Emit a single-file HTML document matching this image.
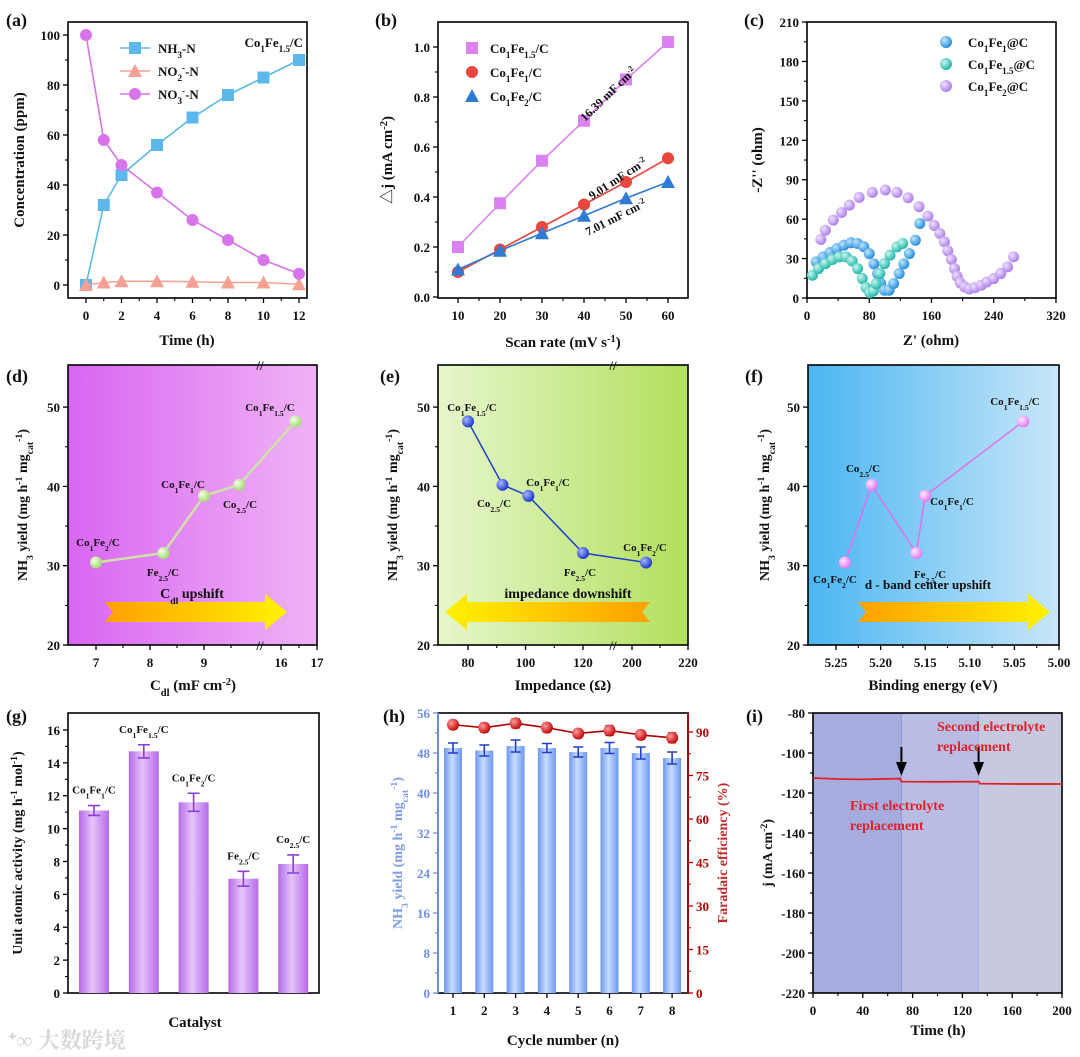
<!DOCTYPE html>
<html><head><meta charset="utf-8">
<style>
html,body{margin:0;padding:0;background:#fff;}
svg{display:block;font-family:"Liberation Serif","Noto Serif CJK SC",serif;font-weight:bold;}
</style></head>
<body>
<svg id="fig" width="1080" height="1057" viewBox="0 0 1080 1057" xmlns="http://www.w3.org/2000/svg">
<defs>
<linearGradient id="gd" x1="0" x2="1" y1="0" y2="0"><stop offset="0" stop-color="#d965f2"/><stop offset="1" stop-color="#f0b3f6"/></linearGradient>
<linearGradient id="ge" x1="0" x2="1" y1="0" y2="0"><stop offset="0" stop-color="#e6f6cc"/><stop offset="1" stop-color="#b2df5c"/></linearGradient>
<linearGradient id="gf" x1="0" x2="1" y1="0" y2="0"><stop offset="0" stop-color="#4bb6f2"/><stop offset="1" stop-color="#c9e7f9"/></linearGradient>
<linearGradient id="arr" x1="0" x2="1" y1="0" y2="0"><stop offset="0" stop-color="#ffa000"/><stop offset="1" stop-color="#fff200"/></linearGradient>
<linearGradient id="arrL" x1="1" x2="0" y1="0" y2="0"><stop offset="0" stop-color="#ffa000"/><stop offset="1" stop-color="#fff200"/></linearGradient>
<linearGradient id="barg" x1="0" x2="1"><stop offset="0" stop-color="#b46be8"/><stop offset="0.45" stop-color="#e7c4fb"/><stop offset="1" stop-color="#b46be8"/></linearGradient>
<linearGradient id="barh" x1="0" x2="1"><stop offset="0" stop-color="#6f97ef"/><stop offset="0.45" stop-color="#c6dcff"/><stop offset="1" stop-color="#6f97ef"/></linearGradient>
<radialGradient id="sBlue" cx="0.35" cy="0.35" r="0.7"><stop offset="0" stop-color="#bfe6ff"/><stop offset="1" stop-color="#1e88d8"/></radialGradient>
<radialGradient id="sTeal" cx="0.35" cy="0.35" r="0.7"><stop offset="0" stop-color="#c8f7f0"/><stop offset="1" stop-color="#18b3a6"/></radialGradient>
<radialGradient id="sPur" cx="0.35" cy="0.35" r="0.7"><stop offset="0" stop-color="#efe0ff"/><stop offset="1" stop-color="#a97ae8"/></radialGradient>
<radialGradient id="sGreen" cx="0.35" cy="0.35" r="0.7"><stop offset="0" stop-color="#f4ffe6"/><stop offset="1" stop-color="#9fd86a"/></radialGradient>
<radialGradient id="sDBlue" cx="0.35" cy="0.35" r="0.7"><stop offset="0" stop-color="#a8b8ff"/><stop offset="1" stop-color="#1431c8"/></radialGradient>
<radialGradient id="sPink" cx="0.35" cy="0.35" r="0.7"><stop offset="0" stop-color="#ffe8ff"/><stop offset="1" stop-color="#e373ee"/></radialGradient>
<radialGradient id="sRed" cx="0.35" cy="0.35" r="0.7"><stop offset="0" stop-color="#ff9a9a"/><stop offset="1" stop-color="#c00000"/></radialGradient>
</defs>
</svg>
<script>
// ---------- data ----------
const aTime=[0,1,2,4,6,8,10,12];
const aNH3=[0,32,44,56,67,76,83,90];
const aNO2=[0,1,1.5,1.5,1.3,1,1,0.3];
const aNO3=[100,58,48,37,26,18,10,4.5];
const bRate=[10,20,30,40,50,60];
const bFe15=[0.20,0.375,0.545,0.705,0.87,1.02];
const bFe1=[0.10,0.19,0.28,0.37,0.46,0.555];
const bFe2=[0.11,0.185,0.255,0.325,0.395,0.46];
const cFe1X=[11.9,20.7,29.6,38.5,47.4,56.3,65,73,80,86,90.7,94.8,99.6,105.5,111.4,118.5,124.4,131.6,139.3,145];
const cFe1Y=[27.5,31.3,34.6,37.7,40.2,42,41.5,39,33.8,26,18.6,11,5.9,5.9,11,18.6,26,33.8,44,56.7];
const cFe15X=[7,14.8,23.7,32.6,41.5,50.4,58,65,71,75.9,80.6,85.3,88.9,93.6,99.6,106.7,115.6,123];
const cFe15Y=[17.3,22.4,26.2,29.3,31.3,31.3,28.2,22.4,14.8,7.9,4,5.3,10.9,18.6,26.2,32.6,38.9,41.5];
const cFe2X=[17.8,23.7,33.8,44.4,54.5,67,84,100.7,115.6,130,144,155.5,163.6,170.7,176.6,181,185.5,189.6,193,197,202.7,208.6,216,224,231,240,249,257.8,265.5];
const cFe2Y=[44.5,51.6,59.3,65.1,70.7,76.6,80.4,82.2,80.4,76.3,69.5,62.3,55.2,49.1,42.7,35.9,29.3,22.4,16.5,11.5,8.4,6.9,7.9,9.7,12.2,14.8,18.6,23.7,31.3];
const dfLabels=["Co1Fe2","Fe2.5","Co1Fe1","Co2.5","Co1Fe1.5"];
const dCdl=[7.0,8.25,9.0,9.65,16.4];
const dYield=[30.4,31.6,38.8,40.2,48.2];
const eImp=[205,120,101,92,80];
const fBE=[5.24,5.16,5.15,5.21,5.04];
const gCats=["Co1Fe1","Co1Fe1.5","Co1Fe2","Fe2.5","Co2.5"];
const gAct=[11.1,14.7,11.6,6.95,7.85];
const gErr=[0.3,0.4,0.55,0.45,0.55];
const hCycle=[1,2,3,4,5,6,7,8];
const hYield=[49,48.5,49.4,49,48.2,49,48,47];
const hYErr=[1,1.1,1.2,0.9,1,1.1,1.2,1.2];
const hFE=[92.5,91.5,93,91.5,89.5,90.5,89,88];
const hFEErr=[1.5,1.5,1.6,1.5,1.4,1.7,1.5,1.7];
const iTime=[0,20,40,70,71,100,133,134,160,200];
const iJ=[-112.5,-113,-113.2,-112.8,-114.3,-114.4,-114.3,-115.3,-115.5,-115.5];
const aXTicks=[0,2,4,6,8,10,12];
const aYTicks=[0,20,40,60,80,100];

// ---------- helpers ----------
const NS="http://www.w3.org/2000/svg";
const fig=document.getElementById('fig');
function mk(tag,attrs,parent){const e=document.createElementNS(NS,tag);for(const k in attrs)e.setAttribute(k,attrs[k]);(parent||fig).appendChild(e);return e;}
function txt(parent,x,y,html,size,anchor,fill,rot){
  const t=mk('text',{x:x,y:y,'font-size':size||13,'text-anchor':anchor||'middle',fill:fill||'#111'},parent);
  if(rot)t.setAttribute('transform','rotate(-90 '+x+' '+y+')');
  t.innerHTML=html;return t;}
function sub(s){return '<tspan baseline-shift="sub" font-size="70%">'+s+'</tspan>';}
function sup(s){return '<tspan baseline-shift="super" font-size="70%">'+s+'</tspan>';}
function cat(name){ // Co1Fe1.5 -> formatted
  return name.replace(/([A-Za-z]+)([0-9.]+)/g,(m,a,b)=>a+sub(b))+'/C';}
function panel(name){const g=mk('g',{});return g;}
function box(g,x0,x1,y0,y1,fill,name){
  const r=mk('rect',{x:x0,y:y0,width:x1-x0,height:y1-y0,fill:fill||'none',stroke:'#000','stroke-width':1.6},g);
  
  return r;}
function xticks(g,vals,labels,X,y,minor,name,color){
  vals.forEach((v,i)=>{const l=mk('line',{x1:X(v),x2:X(v),y1:y,y2:y+5,stroke:color||'#000','stroke-width':1.3},g);
    
    
    const t=txt(g,X(v),y+22,labels[i],13,'middle',color||'#111');
    
    });
  (minor||[]).forEach(v=>{mk('line',{x1:X(v),x2:X(v),y1:y,y2:y+3,stroke:color||'#000','stroke-width':1.1},g);});}
function yticks(g,vals,labels,Y,x,minor,name,color,right){
  const s=right?1:-1;
  vals.forEach((v,i)=>{const l=mk('line',{x1:x,x2:x+5*s,y1:Y(v),y2:Y(v),stroke:color||'#000','stroke-width':1.3},g);
    
    
    const t=txt(g,x+8*s,Y(v)+5,labels[i],13,right?'start':'end',color||'#111');
    
    });
  (minor||[]).forEach(v=>{mk('line',{x1:x,x2:x+3*s,y1:Y(v),y2:Y(v),stroke:color||'#000','stroke-width':1.1},g);});}
function poly(g,xs,ys,X,Y,color,name,w){
  const p=mk('polyline',{points:xs.map((v,i)=>X(v)+','+Y(ys[i])).join(' '),fill:'none',stroke:color,'stroke-width':w||1.6},g);
  
  return p;}
function marker(g,shape,x,y,fill,r){
  let m;
  if(shape==='sq')m=mk('rect',{x:x-r,y:y-r,width:2*r,height:2*r,fill:fill},g);
  else if(shape==='tri')m=mk('polygon',{points:(x)+','+(y-r-1)+' '+(x-r-1)+','+(y+r)+' '+(x+r+1)+','+(y+r),fill:fill},g);
  else m=mk('circle',{cx:x,cy:y,r:r,fill:fill},g);
  return m;}
function arrow(g,x0,x1,y,dir,name){
  const h=10,H=18,hl=22;let pts;
  if(dir>0)pts=[[x0,y-h],[x1-hl,y-h],[x1-hl,y-H],[x1,y],[x1-hl,y+H],[x1-hl,y+h],[x0,y+h],[x0+8,y]];
  else pts=[[x1,y-h],[x0+hl,y-h],[x0+hl,y-H],[x0,y],[x0+hl,y+H],[x0+hl,y+h],[x1,y+h],[x1-8,y]];
  const p=mk('polygon',{points:pts.map(q=>q.join(',')).join(' '),fill:dir>0?'url(#arr)':'url(#arrL)'},g);
  
  }

// ---------- (a) ----------
{const g=panel('panel-a');
 const X=v=>86+v*17.75, Y=v=>285-v*2.5;
 box(g,68,307,22,298,'#fff','plot-area-a');
 xticks(g,aXTicks,aXTicks.map(String),X,298,[1,3,5,7,9,11],'x-axis-a');
 yticks(g,aYTicks,aYTicks.map(String),Y,68,[10,30,50,70,90],'y-axis-a');
 const series=[[aNH3,'#5cb8ea','sq','nh3'],[aNO2,'#f6a094','tri','no2'],[aNO3,'#d874ea','ci','no3']];
 series.forEach(s=>{poly(g,aTime,s[0],X,Y,s[1],'line-'+s[3]);
   s[0].forEach((v,i)=>{const m=marker(g,s[2],X(aTime[i]),Y(v),s[1],6);
     
     });});
 const leg=[['NH'+sub('3')+'-N','#5cb8ea','sq',48],['NO'+sub('2')+sup('-')+'-N','#f6a094','tri',71],['NO'+sub('3')+sup('-')+'-N','#d874ea','ci',94]];
 leg.forEach(l=>{const ln=mk('line',{x1:120,x2:150,y1:l[3],y2:l[3],stroke:l[1],'stroke-width':1.6},g);
   
   
   marker(g,l[2],135,l[3],l[1],6);
   txt(g,158,l[3]+5,l[0],13,'start');});
 txt(g,303,47,'Co'+sub('1')+'Fe'+sub('1.5')+'/C',13,'end');
 const t1=txt(g,187,345,'Time (h)',15);
 const t2=txt(g,24,160,'Concentration (ppm)',15,'middle','#111',true);
 const pl=txt(g,6,26,'(a)',18,'start');}

// ---------- (b) ----------
{const g=panel('panel-b');
 const X=v=>458+(v-10)*4.2, Y=v=>297-v*250;
 box(g,438,688,22,298,'#fff','plot-area-b');
 xticks(g,bRate,bRate.map(String),X,298,[15,25,35,45,55],'x-axis-b');
 const yt=[0,0.2,0.4,0.6,0.8,1.0];
 yticks(g,yt,yt.map(v=>v.toFixed(1)),Y,438,[0.1,0.3,0.5,0.7,0.9],'y-axis-b');
 const series=[[bFe15,'#da82f0','sq','co1fe15'],[bFe1,'#e8473e','ci','co1fe1'],[bFe2,'#2f7ad2','tri','co1fe2']];
 series.forEach(s=>{poly(g,bRate,s[0],X,Y,s[1],'line-'+s[3]);
   s[0].forEach((v,i)=>{const m=marker(g,s[2],X(bRate[i]),Y(v),s[1],6);
     
     });});
 const leg=[['Co'+sub('1')+'Fe'+sub('1.5')+'/C','#da82f0','sq',48],['Co'+sub('1')+'Fe'+sub('1')+'/C','#e8473e','ci',72],['Co'+sub('1')+'Fe'+sub('2')+'/C','#2f7ad2','tri',96]];
 leg.forEach(l=>{const m=marker(g,l[2],472,l[3],l[1],6);
   
   
   txt(g,490,l[3]+5,l[0],13,'start');});
 txt(g,585,122,'16.39 mF cm'+sup('-2'),12,'start','#111').setAttribute('transform','rotate(-44 585 122)');
 txt(g,592,200,'9.01 mF cm'+sup('-2'),12,'start','#111').setAttribute('transform','rotate(-33 592 200)');
 txt(g,588,236,'7.01 mF cm'+sup('-2'),12,'start','#111').setAttribute('transform','rotate(-27 588 236)');
 const t1=txt(g,563,347,'Scan rate (mV s'+sup('-1')+')',15);
 const t2=txt(g,392,160,'△j (mA cm'+sup('-2')+')',15,'middle','#111',true);
 const pl=txt(g,375,26,'(b)',18,'start');}

// ---------- (c) ----------
{const g=panel('panel-c');
 const X=v=>807+v*0.778, Y=v=>298-v*1.314;
 box(g,807,1056,22,298,'#fff','plot-area-c');
 const xt=[0,80,160,240,320];
 xticks(g,xt,xt.map(String),X,298,[40,120,200,280],'x-axis-c');
 const yt=[0,30,60,90,120,150,180,210];
 yticks(g,yt,yt.map(String),Y,807,[15,45,75,105,135,165,195],'y-axis-c');
 const series=[[cFe2X,cFe2Y,'url(#sPur)','co1fe2'],[cFe1X,cFe1Y,'url(#sBlue)','co1fe1'],[cFe15X,cFe15Y,'url(#sTeal)','co1fe15']];
 series.forEach(s=>{s[0].forEach((v,i)=>{const m=mk('circle',{cx:X(v),cy:Y(s[1][i]),r:5.5,fill:s[2]},g);
   
   });});
 const leg=[['Co'+sub('1')+'Fe'+sub('1')+'@C','url(#sBlue)',42],['Co'+sub('1')+'Fe'+sub('1.5')+'@C','url(#sTeal)',64],['Co'+sub('1')+'Fe'+sub('2')+'@C','url(#sPur)',86]];
 leg.forEach(l=>{const m=mk('circle',{cx:946,cy:l[2],r:6,fill:l[1]},g);
   
   
   txt(g,968,l[2]+5,l[0],13,'start');});
 const t1=txt(g,931,345,"Z' (ohm)",15);
 const t2=txt(g,762,160,"-Z'' (ohm)",15,'middle','#111',true);
 const pl=txt(g,744,26,'(c)',18,'start');}

// ---------- (d)(e)(f) shared ----------
const Ydef=v=>645-(v-20)*7.93;
const yfTicks=[20,30,40,50];
function yieldTitle(g,x,name){const t=txt(g,x,505,'NH'+sub('3')+' yield (mg h'+sup('-1')+' mg'+sub('cat')+sup('-1')+')',14,'middle','#111',true);
  
  }
function breakMark(g,x,y){txt(g,x,y+5,'//',13,'middle');}
function catLabel(g,x,y,name,anchor){txt(g,x,y,cat(name),11,anchor||'middle');}

// (d)
{const g=panel('panel-d');
 const X=v=>v<12?150+(v-8)*54:281+(v-16)*36;
 box(g,68,317,365,645,'url(#gd)','plot-area-d');
 const xt=[7,8,9,16,17];
 xticks(g,xt,xt.map(String),X,645,[7.5,8.5,9.5,16.5],'x-axis-d');
 yticks(g,yfTicks,yfTicks.map(String),Ydef,68,[25,35,45],'y-axis-d');
 breakMark(g,260,365);breakMark(g,260,645);
 arrow(g,105,287,612,1,'cdl-upshift-arrow');
 txt(g,192,598,'C'+sub('dl')+' upshift',14);
 poly(g,dCdl,dYield,X,Ydef,'#cfe0a8','line-d',2.5);
 dCdl.forEach((v,i)=>{const m=mk('circle',{cx:X(v),cy:Ydef(dYield[i]),r:6,fill:'url(#sGreen)'},g);
   
   });
 catLabel(g,98,546,'Co1Fe2');catLabel(g,163,576,'Fe2.5');catLabel(g,183,488,'Co1Fe1');catLabel(g,240,508,'Co2.5');catLabel(g,270,411,'Co1Fe1.5');
 txt(g,193,690,'C'+sub('dl')+' (mF cm'+sup('-2')+')',15);
 yieldTitle(g,27,'y-axis-title-d');
 txt(g,6,382,'(d)',18,'start');}

// (e)
{const g=panel('panel-e');
 const X=v=>v<150?468+(v-80)*2.875:632+(v-200)*2.8;
 box(g,438,688,365,645,'url(#ge)','plot-area-e');
 const xt=[80,100,120,200,220];
 xticks(g,xt,xt.map(String),X,645,[90,110,210],'x-axis-e');
 yticks(g,yfTicks,yfTicks.map(String),Ydef,438,[25,35,45],'y-axis-e');
 breakMark(g,613,365);breakMark(g,613,645);
 arrow(g,445,650,612,-1,'impedance-downshift-arrow');
 txt(g,568,598,'impedance downshift',14);
 const ord=[4,3,2,1,0];
 poly(g,ord.map(i=>eImp[i]),ord.map(i=>dYield[i]),X,Ydef,'#1f3fd0','line-e',1.5);
 eImp.forEach((v,i)=>{const m=mk('circle',{cx:X(v),cy:Ydef(dYield[i]),r:6,fill:'url(#sDBlue)'},g);
   
   });
 catLabel(g,472,411,'Co1Fe1.5');catLabel(g,494,507,'Co2.5');catLabel(g,548,486,'Co1Fe1');catLabel(g,580,576,'Fe2.5');catLabel(g,645,551,'Co1Fe2');
 txt(g,563,690,'Impedance (Ω)',15);
 yieldTitle(g,397,'y-axis-title-e');
 txt(g,380,382,'(e)',18,'start');}

// (f)
{const g=panel('panel-f');
 const X=v=>836+(5.25-v)*892;
 box(g,808,1059,365,645,'url(#gf)','plot-area-f');
 const xt=[5.25,5.20,5.15,5.10,5.05,5.00];
 xticks(g,xt,xt.map(v=>v.toFixed(2)),X,645,[5.225,5.175,5.125,5.075,5.025],'x-axis-f');
 yticks(g,yfTicks,yfTicks.map(String),Ydef,808,[25,35,45],'y-axis-f');
 arrow(g,858,1050,612,1,'d-band-upshift-arrow');
 txt(g,928,589,'d - band center upshift',13);
 const ord=[0,3,1,2,4];
 poly(g,ord.map(i=>fBE[i]),ord.map(i=>dYield[i]),X,Ydef,'#e070ec','line-f',1.5);
 fBE.forEach((v,i)=>{const m=mk('circle',{cx:X(v),cy:Ydef(dYield[i]),r:6,fill:'url(#sPink)'},g);
   
   });
 catLabel(g,835,583,'Co1Fe2');catLabel(g,863,472,'Co2.5');catLabel(g,930,578,'Fe2.5');catLabel(g,952,505,'Co1Fe1');catLabel(g,1015,405,'Co1Fe1.5');
 txt(g,933,690,'Binding energy (eV)',15);
 yieldTitle(g,769,'y-axis-title-f');
 txt(g,745,382,'(f)',18,'start');}

// ---------- (g) ----------
{const g=panel('panel-g');
 const Y=v=>993-v*16.44, X=i=>94+i*49.8;
 box(g,68,319,713,993,'#fff','plot-area-g');
 const yt=[0,2,4,6,8,10,12,14,16];
 yticks(g,yt,yt.map(String),Y,68,[1,3,5,7,9,11,13,15],'y-axis-g');
 gAct.forEach((v,i)=>{const b=mk('rect',{x:X(i)-15,y:Y(v),width:30,height:993-Y(v),fill:'url(#barg)'},g);
   
   
   const e=gErr[i];
   mk('path',{d:'M'+X(i)+' '+Y(v+e)+'V'+Y(v-e)+'M'+(X(i)-6)+' '+Y(v+e)+'h12M'+(X(i)-6)+' '+Y(v-e)+'h12',stroke:'#8a3fd8','stroke-width':1.6,fill:'none'},g);
   txt(g,X(i),Y(v+e)-12,cat(gCats[i]),11);});
 txt(g,195,1027,'Catalyst',15);
 const t=txt(g,22,853,'Unit atomic activity (mg h'+sup('-1')+' mol'+sup('-1')+')',14,'middle','#111',true);
 txt(g,6,722,'(g)',18,'start');}

// ---------- (h) ----------
{const g=panel('panel-h');
 const X=n=>453+(n-1)*31.3, YL=v=>993-v*5, YR=v=>993-v*2.9;
 box(g,438,688,713,993,'#fff','plot-area-h');
 mk('line',{x1:438,x2:438,y1:713,y2:993,stroke:'#6f8fe6','stroke-width':1.8},g);
 mk('line',{x1:688,x2:688,y1:713,y2:993,stroke:'#b00000','stroke-width':1.8},g);
 xticks(g,hCycle,hCycle.map(String),X,993,[],'x-axis-h');
 const yl=[0,8,16,24,32,40,48,56];
 yticks(g,yl,yl.map(String),YL,438,[4,12,20,28,36,44,52],'y-axis-left-h','#6f8fe6');
 const yr=[0,15,30,45,60,75,90];
 yticks(g,yr,yr.map(String),YR,688,[7.5,22.5,37.5,52.5,67.5,82.5],'y-axis-right-h','#b00000',true);
 hYield.forEach((v,i)=>{const x=X(hCycle[i]);
   const b=mk('rect',{x:x-9,y:YL(v),width:18,height:993-YL(v),fill:'url(#barh)'},g);
   
   
   const e=hYErr[i];
   mk('path',{d:'M'+x+' '+YL(v+e)+'V'+YL(v-e)+'M'+(x-5)+' '+YL(v+e)+'h10M'+(x-5)+' '+YL(v-e)+'h10',stroke:'#1f3fc8','stroke-width':1.6,fill:'none'},g);});
 poly(g,hCycle,hFE,X,YR,'#b00000','line-faradaic-efficiency',1.6);
 hFE.forEach((v,i)=>{const x=X(hCycle[i]);const e=hFEErr[i];
   mk('path',{d:'M'+x+' '+YR(v+e)+'V'+YR(v-e)+'M'+(x-4)+' '+YR(v+e)+'h8M'+(x-4)+' '+YR(v-e)+'h8',stroke:'#b00000','stroke-width':1.4,fill:'none'},g);
   const m=mk('circle',{cx:x,cy:YR(v),r:6,fill:'url(#sRed)'},g);
   
   });
 txt(g,563,1045,'Cycle number (n)',15);
 txt(g,402,853,'NH'+sub('3')+' yield (mg h'+sup('-1')+' mg'+sub('cat')+sup('-1')+')',14,'middle','#7b9be8',true);
 txt(g,727,853,'Faradaic efficiency (%)',14,'middle','#c0282a',true);
 txt(g,383,722,'(h)',18,'start');}

// ---------- (i) ----------
{const g=panel('panel-i');
 const X=v=>813+v*1.245, Y=v=>713+(-80-v)*2;
 const r1=mk('rect',{x:X(0),y:713,width:X(71)-X(0),height:280,fill:'#a7acdf'},g);
 
 
 const r2=mk('rect',{x:X(71),y:713,width:X(133)-X(71),height:280,fill:'#b9bde4'},g);
 
 
 const r3=mk('rect',{x:X(133),y:713,width:X(200)-X(133),height:280,fill:'#c8c9e0'},g);
 
 
 mk('line',{x1:X(71),x2:X(71),y1:713,y2:993,stroke:'#8f98dc','stroke-width':1},g);
 mk('line',{x1:X(133),x2:X(133),y1:713,y2:993,stroke:'#a9b0e4','stroke-width':1},g);
 box(g,813,1062,713,993,'none','plot-area-i');
 const xt=[0,40,80,120,160,200];
 xticks(g,xt,xt.map(String),X,993,[20,60,100,140,180],'x-axis-i');
 const yt=[-220,-200,-180,-160,-140,-120,-100,-80];
 yticks(g,yt,yt.map(String),Y,813,[-210,-190,-170,-150,-130,-110,-90],'y-axis-i');
 poly(g,iTime,iJ,X,Y,'#e0202a','line-current-density',1.8);
 [71,133].forEach(t=>{const a=mk('path',{d:'M'+X(t)+' '+(Y(-112)-30)+'V'+(Y(-112)-10)+'M'+(X(t)-4)+' '+(Y(-112)-14)+'L'+X(t)+' '+(Y(-112)-4)+'L'+(X(t)+4)+' '+(Y(-112)-14)+'Z',stroke:'#000','stroke-width':2,fill:'#000'},g);
   
   });
 txt(g,850,810,'First electrolyte',14,'start','#e0202a');
 txt(g,850,830,'replacement',14,'start','#e0202a');
 txt(g,937,731,'Second electrolyte',14,'start','#e0202a');
 txt(g,937,751,'replacement',14,'start','#e0202a');
 txt(g,938,1035,'Time (h)',15);
 txt(g,772,853,'j (mA cm'+sup('-2')+')',14,'middle','#111',true);
 txt(g,746,722,'(i)',18,'start');}

// watermark
{const w=txt(fig,8,1048,'ᐩ∞ 大数跨境',22,'start','#d8d8d8');
 
 }
</script>
</body></html>
